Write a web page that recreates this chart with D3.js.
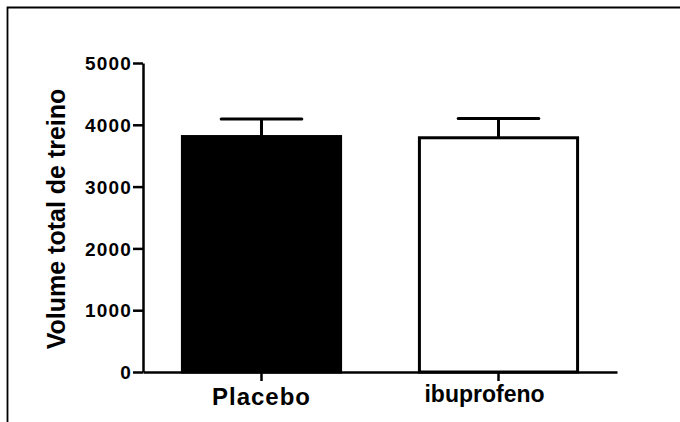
<!DOCTYPE html>
<html>
<head>
<meta charset="utf-8">
<script src="https://cdn.jsdelivr.net/npm/d3@7"></script>
<style>
body{margin:0;background:#fff;overflow:hidden;}
svg{display:block;font-family:"Liberation Sans",Arial,sans-serif;font-weight:bold;}
</style>
</head>
<body>
<svg></svg>
<script>
// chart data
var groups=['Placebo','ibuprofeno'];
var means=[3810,3790];
var sds=[285,310];
var fills=['#000','#fff'];
var yTicks=[0,1000,2000,3000,4000,5000];

var width=680;
var height=422;
var padLeft=143, padRight=617, padTop=63, padBottom=372;

var svg=d3.select('svg')
	.attr('width',width)
	.attr('height',height);

// outer frame (only top and left visible)
svg.append('path')
	.attr('d','M7.5,'+height+'V7.5H'+width)
	.attr('fill','none')
	.attr('stroke','#000')
	.attr('stroke-width',1.8);

var xScale=d3.scaleBand()
			.domain(groups)
			.range([padLeft,padRight])
			.paddingInner(0.32)
			.paddingOuter(0.16);
var yScale=d3.scaleLinear()
			.domain([0,5000])
			.range([padBottom,padTop]);

var data=groups.map(function(g,i){
	return {name:g,mean:means[i],sd:sds[i],fill:fills[i]};
});

// bars
svg.selectAll('rect.bar')
	.data(data)
	.enter()
	.append('rect')
		.attr('class','bar')
		.attr('x',d=>xScale(d.name)+1.5)
		.attr('y',d=>yScale(d.mean))
		.attr('width',xScale.bandwidth()-3)
		.attr('height',d=>yScale(0)-yScale(d.mean))
		.attr('fill',d=>d.fill)
		.attr('stroke','#000')
		.attr('stroke-width',3);

// error bars
var err=svg.selectAll('g.err')
	.data(data)
	.enter()
	.append('g')
	.attr('class','err')
	.attr('stroke','#000')
	.attr('stroke-width',3);
err.append('line')
	.attr('x1',d=>xScale(d.name)+xScale.bandwidth()/2)
	.attr('x2',d=>xScale(d.name)+xScale.bandwidth()/2)
	.attr('y1',d=>yScale(d.mean))
	.attr('y2',d=>yScale(d.mean+d.sd));
err.append('line')
	.attr('stroke-linecap','round')
	.attr('x1',d=>xScale(d.name)+xScale.bandwidth()/4)
	.attr('x2',d=>xScale(d.name)+xScale.bandwidth()*3/4)
	.attr('y1',d=>yScale(d.mean+d.sd))
	.attr('y2',d=>yScale(d.mean+d.sd));

// y axis
var yAxis=d3.axisLeft(yScale)
			.tickValues(yTicks)
			.tickFormat(d3.format('d'))
			.tickSize(10)
			.tickSizeOuter(0)
			.tickPadding(1);
var gy=svg.append('g')
	.attr('transform','translate('+padLeft+',0)')
	.call(yAxis);
gy.select('.domain').attr('stroke-width',2.5);
gy.selectAll('.tick line').attr('stroke-width',2.5);
gy.selectAll('.tick text')
	.attr('fill','#000')
	.style('font-size','19px')
	.style('letter-spacing','1.2px')
	.attr('dy','0.35em');

// x axis
var xAxis=d3.axisBottom(xScale)
			.tickSize(9)
			.tickSizeOuter(0)
			.tickPadding(0);
var gx=svg.append('g')
	.attr('transform','translate(0,'+padBottom+')')
	.call(xAxis);
gx.select('.domain').attr('stroke-width',2.5);
gx.selectAll('.tick line').attr('stroke-width',2.5);
gx.selectAll('.tick text').remove();

// category labels (ibuprofeno sits a bit left and higher in the original)
var labelNudge={Placebo:[0,405,'1px'],ibuprofeno:[-14,402,'0px']};
svg.selectAll('text.cat')
	.data(groups)
	.enter()
	.append('text')
		.attr('class','cat')
		.attr('x',d=>xScale(d)+xScale.bandwidth()/2+labelNudge[d][0])
		.attr('y',d=>labelNudge[d][1])
		.style('text-anchor','middle')
		.style('font-size',d=>d=='Placebo'?'24px':'23px')
		.style('letter-spacing',d=>labelNudge[d][2])
		.text(d=>d);

// y title
svg.append('text')
	.attr('transform','translate(65,219) rotate(-90)')
	.style('text-anchor','middle')
	.style('font-size','25px')
	.text('Volume total de treino');
</script>
</body>
</html>
